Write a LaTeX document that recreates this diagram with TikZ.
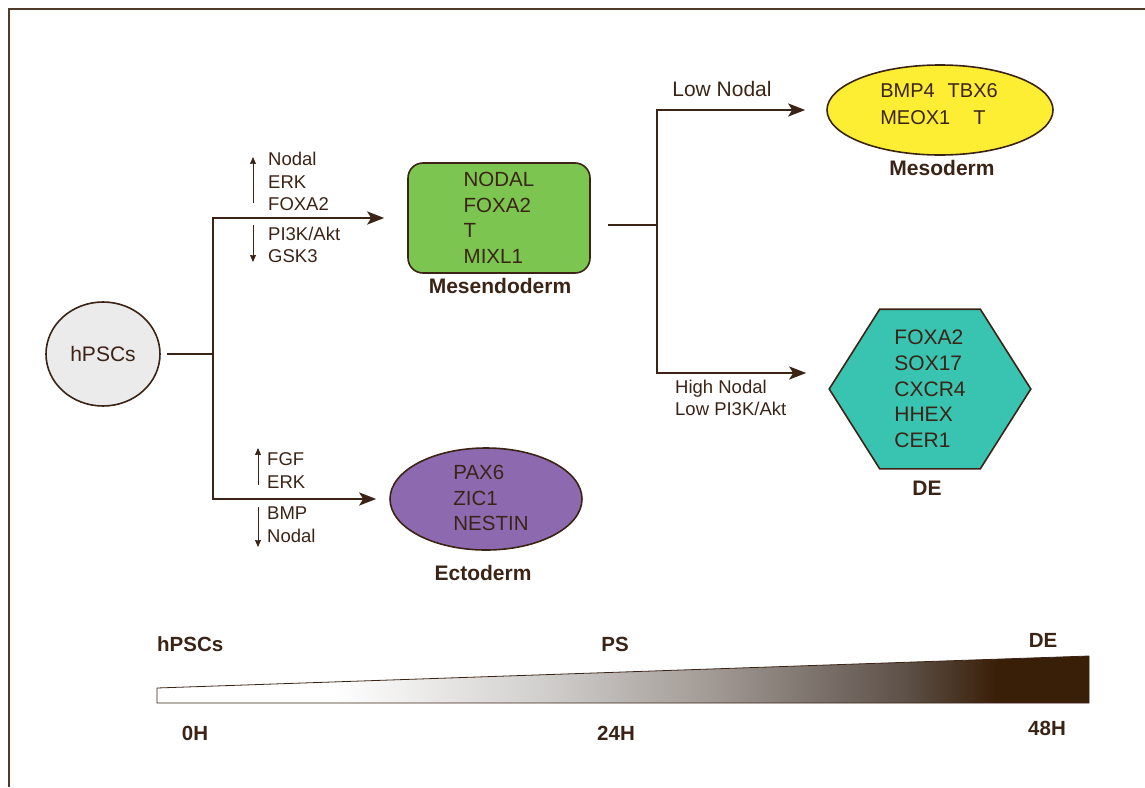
\documentclass[tikz,border=0pt]{standalone}
\usepackage{fontspec}
\setmainfont{Liberation Sans}
\usetikzlibrary{arrows.meta,shapes.geometric,backgrounds}

\definecolor{ink}{HTML}{3B2416}
\definecolor{framebrown}{HTML}{4E3B2C}
\definecolor{stemgray}{HTML}{EBEBEB}
\definecolor{mesgreen}{HTML}{7CC551}
\definecolor{mesoyellow}{HTML}{FDEE34}
\definecolor{ectopurple}{HTML}{8D6AB0}
\definecolor{deteal}{HTML}{38C4B1}
\definecolor{barlight}{RGB}{210,208,206}
\definecolor{bargray}{RGB}{160,152,147}
\definecolor{bardark}{RGB}{94,82,74}
\definecolor{barend}{RGB}{58,31,8}

% white at 0H, dark brown at 48H (visible part is 25bp..75bp)
\pgfdeclarehorizontalshading{timeshade}{100bp}{color(0bp)=(white); color(34.5bp)=(white);
  color(45.5bp)=(barlight); color(55bp)=(bargray); color(65bp)=(bardark);
  color(70bp)=(barend); color(100bp)=(barend)}

\def\timebar{(157,688) -- (1089,656) -- (1089,703) -- (157,703) -- cycle}

\tikzset{
  frame/.style={draw=framebrown, line width=2.2pt},
  link/.style={draw=ink, line width=2.4pt},
  flow/.style={link, -{Stealth[length=17pt,width=13pt,inset=4pt]}},
  updown/.style={draw=ink, line width=1pt, -{Stealth[length=7pt,width=6pt,inset=0.5pt]}},
  cellshape/.style={draw=ink, line width=1.6pt, inner sep=0pt, text=ink, align=left,
    font=\fontsize{20.5}{25.5}\selectfont},
  genes/.style={inner sep=0pt, text=ink, align=left, font=\fontsize{20}{27}\selectfont},
  signal/.style={inner sep=0pt, text=ink, align=left, anchor=west,
    font=\fontsize{18.5}{22.5}\selectfont},
  celltype/.style={inner sep=0pt, text=ink, font=\fontsize{21}{25}\selectfont\bfseries},
  stage/.style={inner sep=0pt, text=ink, font=\fontsize{20.5}{25}\selectfont\bfseries},
}

\begin{document}
\begin{tikzpicture}[x=1pt,y=-1pt]
\useasboundingbox (0,0) rectangle (1145,787);
\draw[frame] (1145,9) -- (9,9) -- (9,787);

% cells
\node[cellshape, ellipse, fill=stemgray, minimum width=114pt, minimum height=104pt,
  font=\fontsize{21}{25}\selectfont] (hpsc) at (103,354) {hPSCs};
\node[cellshape, rectangle, rounded corners=15pt, fill=mesgreen,
  minimum width=182pt, minimum height=110pt] (mesendo) at (499,218) {NODAL\\FOXA2\\T\\MIXL1};
\node[cellshape, ellipse, fill=mesoyellow, minimum width=226pt, minimum height=90pt] (meso) at (940,110) {};
\node[genes] (mesogenes) at (939,104) {BMP4\hspace{13pt}TBX6\\MEOX1\hspace{23pt}T};
\node[cellshape, ellipse, fill=ectopurple, minimum width=192pt, minimum height=102pt] (ecto) at (486,499) {};
\node[genes, font=\fontsize{20.5}{25.5}\selectfont] (ectogenes) at (491,498) {PAX6\\ZIC1\\NESTIN};
\node[cellshape, rectangle, draw=none, minimum width=200pt, minimum height=158pt,
  font=\fontsize{21}{25.75}\selectfont] (de) at (930,389) {FOXA2\\SOX17\\CXCR4\\HHEX\\CER1};
\begin{scope}[on background layer]
  \draw[draw=ink, line width=1.6pt, fill=deteal] (de.west) -- ([xshift=50.5pt]de.north west)
    -- ([xshift=-50.5pt]de.north east) -- (de.east) -- ([xshift=-50.5pt]de.south east)
    -- ([xshift=50.5pt]de.south west) -- cycle;
\end{scope}

\node[celltype, anchor=base] (mesendolbl) at (500,293) {Mesendoderm};
\node[celltype, anchor=base] (mesolbl) at (942,175) {Mesoderm};
\node[celltype, anchor=base] (ectolbl) at (483,580) {Ectoderm};
\node[celltype, anchor=base] (delbl) at (927,495) {DE};

% lineage tree
\coordinate (trunk) at (213,354);
\coordinate (split) at (657,225);
\draw[link, shorten <=6pt] (hpsc) -- (trunk);
\draw[flow, shorten >=23pt] (trunk) |- (mesendo.west);
\draw[flow, shorten >=13pt] (trunk) |- (ecto.west);
\draw[link, shorten <=17pt] (mesendo.east |- split) -- (split);
\draw[flow, shorten >=21pt] (split) |- (meso.west);
\draw[flow, shorten >=23pt] (split) |- ([yshift=16pt]de.west);

% signals
\node[signal] (mesup) at (268,181.5) {Nodal\\ERK\\FOXA2};
\node[signal] (mesdown) at (268,245) {PI3K/Akt\\GSK3};
\node[signal] (ectoup) at (267,470.5) {FGF\\ERK};
\node[signal] (ectodown) at (267,524.5) {BMP\\Nodal};
\node[signal] (highnodal) at (675,398) {High Nodal\\Low PI3K/Akt};
\node[signal, anchor=center, font=\fontsize{21}{25}\selectfont] (lownodal) at (722,88.5) {Low Nodal};
\draw[updown] (253,203) -- (253,157);
\draw[updown] (253,225) -- (253,262);
\draw[updown] (258,485) -- (258,448);
\draw[updown] (258,507) -- (258,547);

% time course
\shade[shading=timeshade] \timebar;
\draw[draw=ink, line width=0.8pt] \timebar;
\node[stage, anchor=base west] (startlbl) at (157,651) {hPSCs};
\node[stage, anchor=base] (pslbl) at (615,651) {PS};
\node[stage, anchor=base] (endlbl) at (1043,647) {DE};
\node[stage, anchor=base] (h0) at (195,740) {0H};
\node[stage, anchor=base] (h24) at (616,740) {24H};
\node[stage, anchor=base] (h48) at (1047,735) {48H};
\end{tikzpicture}
\end{document}
